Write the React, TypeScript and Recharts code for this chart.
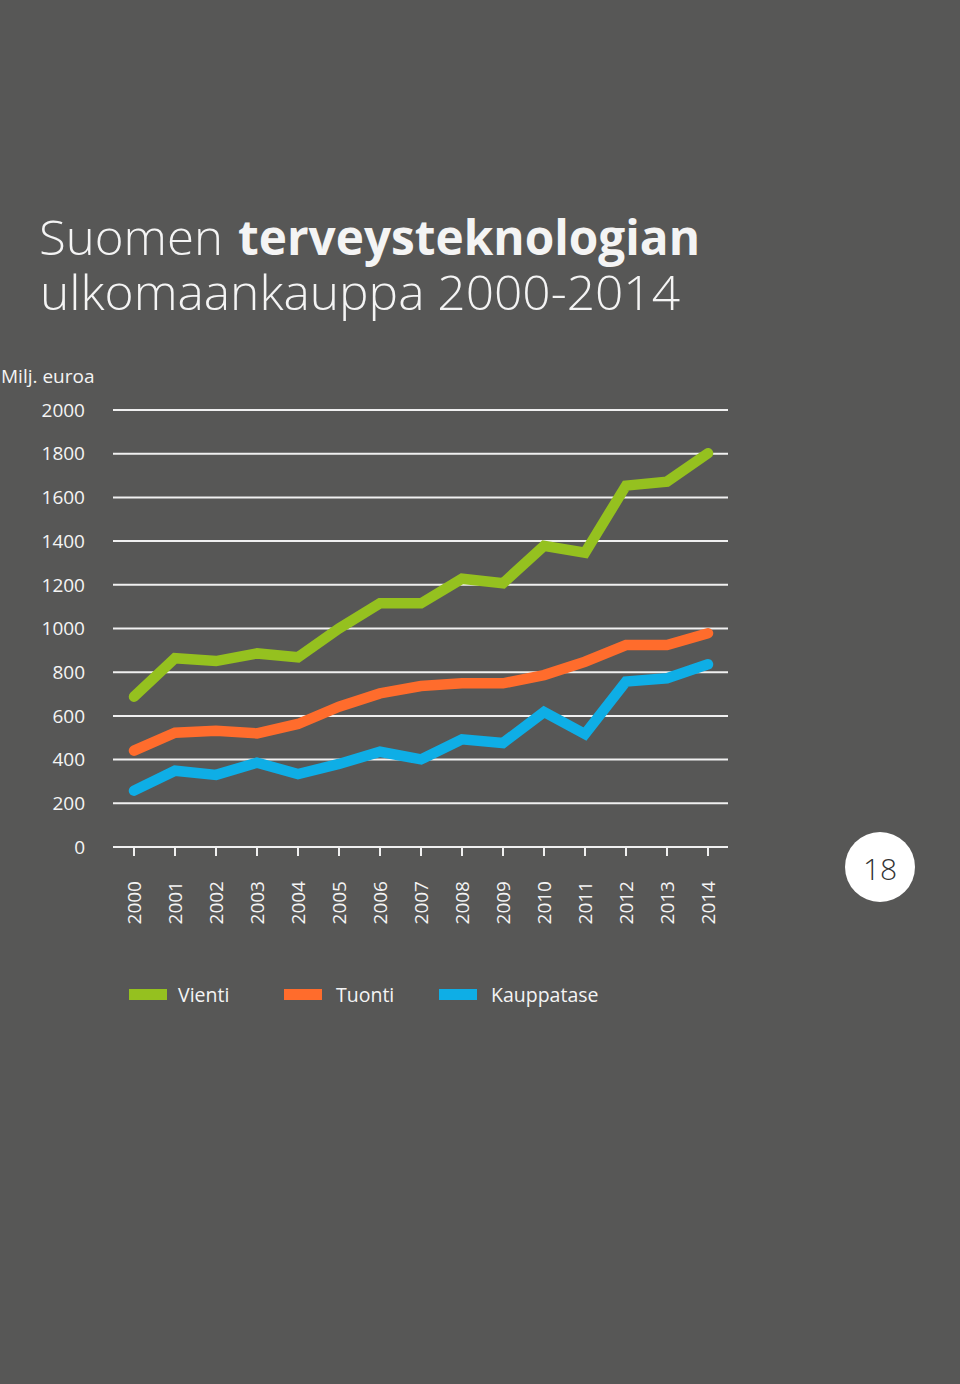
import { LineChart, Line, XAxis, YAxis, CartesianGrid } from 'recharts'

const years = ['2000', '2001', '2002', '2003', '2004', '2005', '2006', '2007', '2008', '2009', '2010', '2011', '2012', '2013', '2014']
const vienti = [688, 864, 851, 886, 868, 1000, 1115, 1115, 1228, 1207, 1378, 1347, 1654, 1672, 1802]
const tuonti = [441, 523, 532, 520, 563, 642, 703, 737, 749, 749, 787, 848, 924, 924, 978]
const kauppatase = [258, 349, 330, 386, 334, 380, 436, 401, 493, 476, 618, 517, 757, 772, 836]
const yTicks = [0, 200, 400, 600, 800, 1000, 1200, 1400, 1600, 1800, 2000]

const series = [
  { key: 'vienti', name: 'Vienti', color: '#95C11F' },
  { key: 'tuonti', name: 'Tuonti', color: '#FF6C2C' },
  { key: 'kauppatase', name: 'Kauppatase', color: '#0EAEE6' },
]

const data = years.map((year, i) => ({
  year,
  vienti: vienti[i],
  tuonti: tuonti[i],
  kauppatase: kauppatase[i],
}))

const BG = '#575756'
const TEXT = '#f4f4f4'
const FONT = '"Open Sans", sans-serif'

// legend placement: swatch left, label left
const legendPos = [[129, 178], [284, 336], [439, 491]]

function YearTick(props: any) {
  const { x, y, payload } = props
  return (
    <text
      transform={`translate(${x},${y + 23}) rotate(-90)`}
      textAnchor="end"
      dominantBaseline="central"
      fill={TEXT}
      fontSize={19}
      fontFamily={FONT}
    >
      {payload.value}
    </text>
  )
}

export default function App() {
  return (
    <div style={{ position: 'absolute', left: 0, top: 0, width: 960, height: 1384, background: BG, overflow: 'hidden', fontFamily: FONT }}>
      {/* title + page number */}
      <svg width={960} height={960} style={{ position: 'absolute', left: 0, top: 0 }}>
        <text x={39} y={255} fill={TEXT} fontSize={48} fontWeight={300} textLength={184} lengthAdjust="spacingAndGlyphs">Suomen</text>
        <text x={238} y={255} fill={TEXT} fontSize={48} fontWeight={700} textLength={462} lengthAdjust="spacingAndGlyphs">terveysteknologian</text>
        <text x={40} y={310} fill={TEXT} fontSize={48} fontWeight={300} textLength={640} lengthAdjust="spacingAndGlyphs">ulkomaankauppa 2000-2014</text>
        <circle cx={880} cy={867} r={35} fill="#ffffff" />
        <text x={880} y={868} textAnchor="middle" dominantBaseline="central" fill="#333333" fontSize={30} fontWeight={300}>18</text>
      </svg>

      <div style={{ position: 'absolute', left: 1, top: 363, fontSize: 19, color: TEXT, whiteSpace: 'nowrap' }}>Milj. euroa</div>

      <div style={{ position: 'absolute', left: 0, top: 0 }}>
        <LineChart width={960} height={960} data={data} margin={{ top: 410, right: 232, bottom: 13, left: 0 }}>
          <CartesianGrid vertical={false} stroke="#f0f0f0" strokeWidth={2} />
          <XAxis
            dataKey="year"
            interval={0}
            height={100}
            padding={{ left: 21, right: 20 }}
            axisLine={{ stroke: '#f0f0f0', strokeWidth: 2 }}
            tickLine={{ stroke: '#f0f0f0', strokeWidth: 2 }}
            tickSize={9}
            tick={<YearTick />}
          />
          <YAxis
            domain={[0, 2000]}
            ticks={yTicks}
            width={113}
            axisLine={false}
            tickLine={false}
            tickSize={0}
            tickMargin={28}
            tick={{ fill: TEXT, fontSize: 19, fontFamily: FONT }}
          />
          {series.map((s) => (
            <Line
              key={s.key}
              dataKey={s.key}
              name={s.name}
              type="linear"
              stroke={s.color}
              strokeWidth={10.5}
              strokeLinecap="round"
              strokeLinejoin="miter"
              dot={false}
              activeDot={false}
              isAnimationActive={false}
            />
          ))}
        </LineChart>
      </div>

      {/* legend */}
      {series.map((s, i) => (
        <div key={s.key}>
          <div style={{ position: 'absolute', left: legendPos[i][0], top: 989, width: 38, height: 11, background: s.color }} />
          <span style={{ position: 'absolute', left: legendPos[i][1], top: 982, fontSize: 19.5, lineHeight: '26px', color: TEXT, whiteSpace: 'nowrap' }}>{s.name}</span>
        </div>
      ))}
    </div>
  )
}
